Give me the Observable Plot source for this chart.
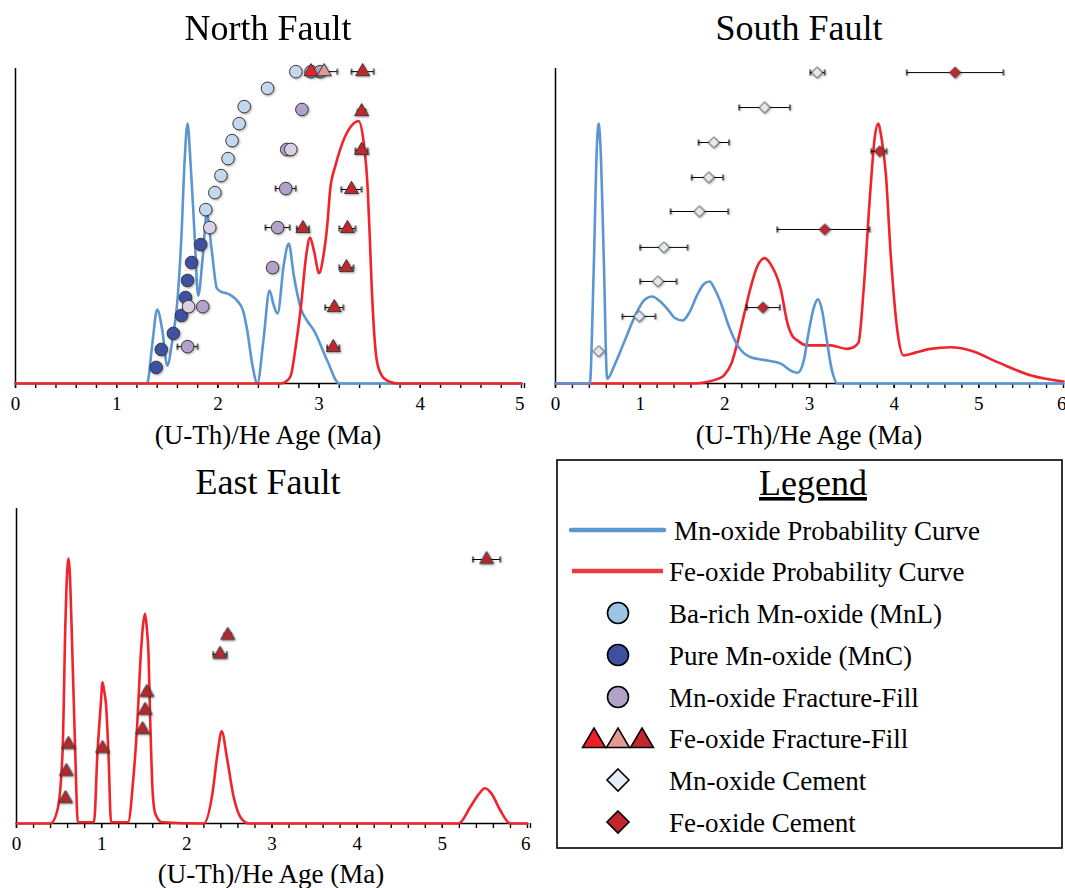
<!DOCTYPE html>
<html>
<head>
<meta charset="utf-8">
<script src="https://cdn.jsdelivr.net/npm/d3@7"></script>
<script src="https://cdn.jsdelivr.net/npm/@observablehq/plot@0.6"></script>
<style>
  html, body { margin: 0; padding: 0; background: #fff; }
  #root { position: relative; width: 1065px; height: 888px; background: #fff; overflow: hidden;
          font-family: 'Liberation Serif', 'Times New Roman', serif; color: #000; }
  .panel { position: absolute; }
  .panel svg { overflow: visible; }
  .title { position: absolute; font-size: 36px; line-height: 36px; white-space: nowrap; transform: translateX(-50%); }
  .xlabel { position: absolute; font-size: 27px; line-height: 27px; white-space: nowrap; transform: translateX(-50%); }
  svg [aria-label="dot"] { filter: drop-shadow(1px 1.5px 1px rgba(0,0,0,0.35)); }
  svg text { font-family: 'Liberation Serif', 'Times New Roman', serif; }
  .panel svg text { font-size: 19px !important; }
</style>
</head>
<body>
<div id="root"></div>
<script>
// ---------------- DATA ----------------
// probability curves: [age (Ma), relative probability 0-100]
const northMnCurve = [[0,0],[1.30,0],[1.35,12],[1.40,23.5],[1.45,17],[1.50,5.7],[1.55,13.7],[1.60,26.3],[1.64,47],[1.67,70],[1.70,82.5],[1.73,70],[1.77,47],[1.805,27.9],[1.85,40],[1.89,54],[1.94,42],[1.99,30.2],[2.04,29],[2.09,28.6],[2.15,27.5],[2.19,26.3],[2.25,23],[2.29,16.8],[2.34,6],[2.39,0],[2.45,13.7],[2.51,29.5],[2.55,25],[2.59,22.2],[2.65,37.5],[2.70,44.4],[2.75,34.3],[2.82,23.8],[2.88,20],[2.95,16.8],[3.08,7.3],[3.20,0],[5,0]];
const northFeCurve = [[0,0],[2.62,0],[2.68,0.8],[2.72,2.5],[2.77,12],[2.82,24.2],[2.87,40],[2.91,46.3],[2.95,42],[3.00,35],[3.04,40],[3.08,50],[3.11,61.7],[3.16,69],[3.21,74.5],[3.31,81.4],[3.39,83.3],[3.44,76.6],[3.48,61.9],[3.50,47],[3.52,30.6],[3.57,7.3],[3.62,2.5],[3.67,1.0],[3.77,0],[5,0]];
const southMnCurve = [[0,0],[0.405,0],[0.45,35],[0.49,76],[0.51,82.5],[0.53,76],[0.57,40],[0.61,1.5],[0.70,6],[0.81,13.1],[0.96,22.6],[1.05,26.5],[1.14,27.6],[1.23,26.2],[1.32,23.7],[1.41,20.8],[1.50,20],[1.58,22.5],[1.67,27.9],[1.75,31.5],[1.82,32.4],[1.88,30],[1.95,25.8],[2.05,18],[2.15,12.1],[2.30,8.4],[2.50,7.3],[2.66,6.3],[2.80,3.8],[2.86,3.4],[2.93,7],[2.99,16.3],[3.05,24],[3.10,26.7],[3.15,23],[3.19,16.3],[3.27,3.6],[3.33,0],[6,0]];
const southFeCurve = [[0,0],[1.60,0],[1.79,0.5],[1.90,1.3],[1.99,2.6],[2.08,6.5],[2.15,13.1],[2.22,21],[2.30,30],[2.38,37],[2.47,39.8],[2.55,37.5],[2.66,30],[2.74,19.1],[2.80,15],[2.85,13.8],[2.97,12.1],[3.25,12.1],[3.44,11],[3.52,11.5],[3.58,13.1],[3.64,30],[3.72,61.7],[3.77,78],[3.81,82.5],[3.85,78],[3.90,67.1],[3.96,40.6],[4.04,16.3],[4.11,8.9],[4.25,9.8],[4.43,11],[4.67,11.5],[4.90,10.5],[5.22,6.8],[5.61,2.6],[6.0,0.6]];
const eastFeCurve = [[0,0],[0.40,0],[0.48,4.2],[0.54,22.2],[0.575,64.4],[0.595,80],[0.61,84.2],[0.625,80],[0.645,64.4],[0.69,22.2],[0.72,0.4],[0.91,0.4],[0.95,22.1],[0.99,38],[1.01,44.8],[1.03,42],[1.05,38.1],[1.08,22.1],[1.11,0.4],[1.31,0.4],[1.37,13.7],[1.42,32.7],[1.46,53.9],[1.49,64],[1.51,66.6],[1.53,62],[1.55,53.9],[1.57,32.7],[1.60,9.4],[1.63,3.1],[1.71,0.4],[2.20,0],[2.30,9.4],[2.36,22.1],[2.41,29.3],[2.47,21],[2.55,8.4],[2.63,2],[2.73,0],[5.19,0],[5.33,5.3],[5.43,9.4],[5.50,11.2],[5.58,9.4],[5.68,4.2],[5.80,0],[6,0]];

// samples: [age (Ma), plot row 0-100, error low, error high]
const northMnL = [[2.77,99],[2.49,93.7],[2.26,87.9],[2.21,82.5],[2.14,77.1],[2.10,71.4],[2.03,66.0],[1.97,60.6],[1.88,55.2]];
const northMnC = [[1.83,44.1],[1.74,38.4],[1.70,32.7],[1.68,27.3],[1.64,21.6],[1.56,15.9],[1.44,10.8],[1.39,5.1]];
const northMnFF = [[2.59,49.5,2.47,2.71],[2.54,36.8],[1.85,24.4],[1.70,11.7,1.60,1.80],[2.83,87.0],[2.68,74.3],[2.67,61.9,2.57,2.77],[2.92,99],[3.01,99]];
const northMnFFpale = [[1.92,49.5],[1.71,24.4],[2.72,74.3]];
const northFeFF = [[3.43,99,3.32,3.54],[3.42,86.3,3.38,3.46],[3.42,74.0,3.36,3.48],[3.32,61.6,3.22,3.42],[3.28,49.2,3.20,3.36],[2.84,49.2,2.78,2.90],[3.27,36.8,3.20,3.34],[3.15,24.1,3.06,3.24],[3.14,11.4,3.08,3.20]];
const northFeFFbright = [[2.92,99]];
const northFeFFpink = [[3.05,99,2.92,3.18]];
const southMnCement = [[0.51,10.2],[0.99,21.3,0.79,1.18],[1.21,32.4,1.00,1.43],[1.28,43.2,1.00,1.56],[1.70,54.6,1.36,2.04],[1.81,65.4,1.61,1.98],[1.87,76.5,1.69,2.05],[2.47,87.6,2.17,2.77],[3.09,98.7,3.01,3.18]];
const southFeCement = [[2.45,24.1,2.26,2.65],[3.18,48.9,2.62,3.71],[3.83,73.7,3.73,3.91],[4.72,98.7,4.15,5.29]];
const eastFeFF = [[0.61,25.1],[0.585,16.5],[0.575,7.9],[1.01,23.8],[1.53,41.6,1.50,1.56],[1.51,35.9],[1.48,29.8],[2.48,59.7,2.44,2.52],[2.39,53.7,2.31,2.47],[5.52,83.8,5.36,5.68]];

const northTicks = [0,1,2,3,4,5];
const southTicks = [0,1,2,3,4,5,6];
const eastTicks = [0,1,2,3,4,5,6];
const titles = ["North Fault", "South Fault", "East Fault"];
const xLabel = "(U-Th)/He Age (Ma)";
const legendItems = ["Mn-oxide Probability Curve","Fe-oxide Probability Curve","Ba-rich Mn-oxide (MnL)","Pure Mn-oxide (MnC)","Mn-oxide Fracture-Fill","Fe-oxide Fracture-Fill","Mn-oxide Cement","Fe-oxide Cement"];

// ---------------- STYLES ----------------
const FONT = "'Liberation Serif', 'Times New Roman', serif";
const C = {
  mnLine: "#5b96d3", feLine: "#f2232a",
  mnL: "#c3d8ec", mnC: "#3d50a2", mnFF: "#b2a1c8", mnFFpale: "#d8cfe3",
  feBright: "#ee2027", fePink: "#e39a97", feDark: "#c2272d", feEast: "#b3292d",
  mnCem: "#e2e9f1", feCem: "#c2272d", mark: "#3a3a3a"
};
const cap = { draw(ctx, size) { const r = Math.sqrt(size / Math.PI); ctx.moveTo(0, -r); ctx.lineTo(0, r); } };

function panel({ width, height, marginLeft, marginRight, marginTop, marginBottom, xMax, ticks, curves, groups }) {
  const minor = d3.range(0, Math.round(xMax / 0.2) + 1).map(i => +(i * 0.2).toFixed(1));
  const withErr = groups.flatMap(g => g.data.filter(d => d[2] != null));
  const inner = ticks.filter(t => t < xMax);
  const last = ticks.filter(t => t === xMax);
  const edge = width - marginRight > 520; // last label would touch the page edge
  return Plot.plot({
    width, height, marginLeft, marginRight, marginTop, marginBottom,
    x: { domain: [0, xMax] },
    y: { domain: [0, 100], axis: null },
    style: { fontFamily: FONT, fontSize: "19px", color: "#000", background: "transparent", overflow: "visible" },
    marks: [
      Plot.ruleX([0], { stroke: "#000", strokeWidth: 1.5 }),
      Plot.ruleY([0], { stroke: "#000", strokeWidth: 1.5 }),
      Plot.axisX({ ticks: minor, tickSize: 5, tickFormat: () => "", label: null, strokeWidth: 1.4 }),
      Plot.axisX({ ticks: inner, tickSize: 5, tickPadding: 8, tickFormat: d => String(d), label: null, strokeWidth: 1.4, fontSize: 19 }),
      Plot.axisX({ ticks: last, tickSize: 5, tickPadding: 8, tickFormat: d => String(d), label: null, strokeWidth: 1.4, fontSize: 19, textAnchor: edge ? "end" : "middle", dx: edge ? 3 : 0 }),
      ...curves.map(c => Plot.line(c.data, { x: d => d[0], y: d => d[1], stroke: c.color, strokeWidth: 2.6, curve: "monotone-x" })),
      Plot.ruleY(withErr, { y: d => d[1], x1: d => d[2], x2: d => d[3], stroke: "#000", strokeWidth: 1 }),
      Plot.dot(withErr, { x: d => d[2], y: d => d[1], symbol: cap, r: 3, stroke: "#000", fill: "none", strokeWidth: 1.2 }),
      Plot.dot(withErr, { x: d => d[3], y: d => d[1], symbol: cap, r: 3, stroke: "#000", fill: "none", strokeWidth: 1.2 }),
      ...groups.map(g => Plot.dot(g.data, { x: d => d[0], y: d => d[1], symbol: g.symbol, r: g.r, fill: g.fill, stroke: C.mark, strokeWidth: 1 }))
    ]
  });
}

const root = document.getElementById("root");
function place(el, left, top) { const d = document.createElement("div"); d.className = "panel"; d.style.left = left + "px"; d.style.top = top + "px"; d.appendChild(el); root.appendChild(d); }
function text(cls, str, x, y) { const d = document.createElement("div"); d.className = cls; d.textContent = str; d.style.left = x + "px"; d.style.top = y + "px"; root.appendChild(d); }

// North Fault
place(panel({
  width: 540, height: 450, marginLeft: 15, marginRight: 19, marginTop: 68, marginBottom: 67, xMax: 5, ticks: northTicks,
  curves: [{ data: northMnCurve, color: C.mnLine }, { data: northFeCurve, color: C.feLine }],
  groups: [
    { data: northMnL, symbol: "circle", r: 6.3, fill: C.mnL },
    { data: northMnC, symbol: "circle", r: 6.3, fill: C.mnC },
    { data: northMnFF, symbol: "circle", r: 6.3, fill: C.mnFF },
    { data: northMnFFpale, symbol: "circle", r: 6.3, fill: C.mnFFpale },
    { data: northFeFF, symbol: "triangle", r: 5.2, fill: C.feDark },
    { data: northFeFFbright, symbol: "triangle", r: 5.2, fill: C.feBright },
    { data: northFeFFpink, symbol: "triangle", r: 5.2, fill: C.fePink }
  ]
}), 0, 0);

// South Fault
place(panel({
  width: 525, height: 450, marginLeft: 15, marginRight: 2, marginTop: 68, marginBottom: 67, xMax: 6, ticks: southTicks,
  curves: [{ data: southFeCurve, color: C.feLine }, { data: southMnCurve, color: C.mnLine }],
  groups: [
    { data: southMnCement, symbol: "diamond2", r: 5, fill: C.mnCem },
    { data: southFeCement, symbol: "diamond2", r: 5, fill: C.feCem }
  ]
}), 540, 0);

// East Fault
place(panel({
  width: 540, height: 448, marginLeft: 16, marginRight: 13, marginTop: 68, marginBottom: 65, xMax: 6, ticks: eastTicks,
  curves: [{ data: eastFeCurve, color: C.feLine }],
  groups: [
    { data: eastFeFF, symbol: "triangle", r: 5.2, fill: C.feEast }
  ]
}), 0, 440);

// titles and axis labels
text("title", titles[0], 268, 10);
text("title", titles[1], 799, 10);
text("title", titles[2], 268, 464);
text("xlabel", xLabel, 268, 422);
text("xlabel", xLabel, 809, 422);
text("xlabel", xLabel, 271, 861);

// Legend
(function legend() {
  const ns = "http://www.w3.org/2000/svg";
  const svg = document.createElementNS(ns, "svg");
  svg.setAttribute("width", 507); svg.setAttribute("height", 390);
  svg.style.position = "absolute"; svg.style.left = "556px"; svg.style.top = "459px";
  const ox = 556, oy = 459;
  const add = (tag, attrs, txt) => { const e = document.createElementNS(ns, tag); for (const k in attrs) e.setAttribute(k, attrs[k]); if (txt != null) e.textContent = txt; svg.appendChild(e); return e; };
  add("rect", { x: 1, y: 1, width: 505, height: 388, fill: "#fff", stroke: "#000", "stroke-width": 1.6 });
  const title = add("text", { x: 813 - ox, y: 495 - oy, "text-anchor": "middle", "font-size": 36 }, "Legend");
  title.setAttribute("text-decoration", "underline");
  const rows = [530, 571, 613, 655, 697, 738, 780, 822];
  const tx = [674, 669, 669, 669, 669, 669, 669, 669];
  legendItems.forEach((s, i) => add("text", { x: tx[i] - ox, y: rows[i] - oy + 9.5, "font-size": 27 }, s));
  add("line", { x1: 571 - ox, x2: 664 - ox, y1: rows[0] - oy, y2: rows[0] - oy, stroke: C.mnLine, "stroke-width": 4.5, "stroke-linecap": "round" });
  add("line", { x1: 572 - ox, x2: 663 - ox, y1: rows[1] - oy, y2: rows[1] - oy, stroke: "#ec3b3e", "stroke-width": 4.5 });
  [["#9dc3e6", 2], [C.mnC, 3], [C.mnFF, 4]].forEach(([f, i]) => add("circle", { cx: 618 - ox, cy: rows[i] - oy, r: 10.5, fill: f, stroke: "#000", "stroke-width": 1.6 }));
  [[594, C.feBright], [618, C.fePink], [642, C.feDark]].forEach(([cx, f]) => {
    const x = cx - ox, y = rows[5] - oy;
    add("path", { d: `M${x},${y - 10}L${x + 11.5},${y + 9.5}L${x - 11.5},${y + 9.5}Z`, fill: f, stroke: "#000", "stroke-width": 1.5 });
  });
  [[6, "#e6edf5"], [7, C.feCem]].forEach(([i, f]) => {
    const x = 618 - ox, y = rows[i] - oy;
    add("path", { d: `M${x},${y - 11}L${x + 11},${y}L${x},${y + 11}L${x - 11},${y}Z`, fill: f, stroke: "#000", "stroke-width": 1.6 });
  });
  root.appendChild(svg);
})();
</script>
</body>
</html>
